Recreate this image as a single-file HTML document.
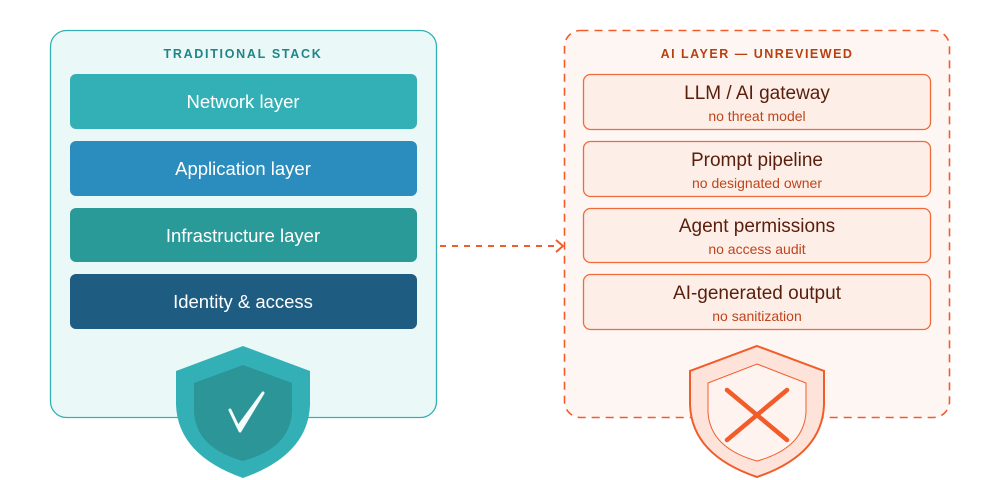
<!DOCTYPE html>
<html><head><meta charset="utf-8"><style>
html,body{margin:0;padding:0;background:#fff;width:1000px;height:480px;overflow:hidden}
svg{display:block;font-family:"Liberation Sans",sans-serif}
</style></head><body>
<svg width="1000" height="480" viewBox="0 0 1000 480" xmlns="http://www.w3.org/2000/svg">
<!-- left container -->
<rect x="50.5" y="30.5" width="386" height="387" rx="16" fill="#ebf8f8" stroke="#33b0b5" stroke-width="1.3"/>
<text x="243" y="58" text-anchor="middle" font-size="12.5" font-weight="bold" fill="#1f8589" letter-spacing="1.7">TRADITIONAL STACK</text>
<g font-size="18.5" fill="#fff" text-anchor="middle">
<rect x="70" y="74" width="347" height="55" rx="6" fill="#33b0b6"/>
<text x="243" y="108">Network layer</text>
<rect x="70" y="141" width="347" height="55" rx="6" fill="#2b8dbd"/>
<text x="243" y="175">Application layer</text>
<rect x="70" y="208" width="347" height="54" rx="6" fill="#2a9a98"/>
<text x="243" y="242">Infrastructure layer</text>
<rect x="70" y="274" width="347" height="55" rx="6" fill="#1f5c82"/>
<text x="243" y="308">Identity &amp; access</text>
</g>
<!-- left shield -->
<path d="M243 346 L310 371 L310 405 Q308 455 243 478 Q178 455 176 405 L176 371 Z" fill="#33b0b5"/>
<path d="M243 365 L292 383 L292 412 Q290 448 243 461 Q196 448 194 412 L194 383 Z" fill="#2b9598"/>
<path d="M230 410 L238 427 L263 393 L240 431 Z" fill="#f4fcfc" stroke="#f4fcfc" stroke-width="3" stroke-linejoin="round"/>
<!-- arrow -->
<line x1="440" y1="246" x2="560" y2="246" stroke="#f25c2a" stroke-width="2" stroke-dasharray="6 6"/>
<path d="M556 240 L563 246 L556 252" fill="none" stroke="#f25c2a" stroke-width="2"/>
<!-- right container -->
<rect x="564.5" y="30.5" width="385" height="387" rx="16" fill="#fef6f3" stroke="#f25c2a" stroke-width="1.6" stroke-dasharray="8 6"/>
<text x="757" y="58" text-anchor="middle" font-size="12.5" font-weight="bold" fill="#b8400f" letter-spacing="1.5">AI LAYER — UNREVIEWED</text>
<g font-size="19" fill="#5a1f0c" text-anchor="middle">
<rect x="583.5" y="74.5" width="347" height="55" rx="7" fill="#fdeee8" stroke="#f06a3a" stroke-width="1.3"/>
<text x="757" y="99">LLM / AI gateway</text>
<text x="757" y="121" font-size="14" fill="#c0451a">no threat model</text>
<rect x="583.5" y="141.5" width="347" height="55" rx="7" fill="#fdeee8" stroke="#f06a3a" stroke-width="1.3"/>
<text x="757" y="166">Prompt pipeline</text>
<text x="757" y="188" font-size="14" fill="#c0451a">no designated owner</text>
<rect x="583.5" y="208.5" width="347" height="54" rx="7" fill="#fdeee8" stroke="#f06a3a" stroke-width="1.3"/>
<text x="757" y="232">Agent permissions</text>
<text x="757" y="254" font-size="14" fill="#c0451a">no access audit</text>
<rect x="583.5" y="274.5" width="347" height="55" rx="7" fill="#fdeee8" stroke="#f06a3a" stroke-width="1.3"/>
<text x="757" y="299">AI-generated output</text>
<text x="757" y="321" font-size="14" fill="#c0451a">no sanitization</text>
</g>
<!-- right shield -->
<path d="M757 346 L824 371 L824 405 Q822 455 757 477 Q692 455 690 405 L690 371 Z" fill="#fde3da" stroke="#f25c2a" stroke-width="2"/>
<path d="M757 364 L806 383 L806 412 Q804 448 757 461 Q710 448 708 412 L708 383 Z" fill="#fef3ef" stroke="#f25c2a" stroke-width="1"/>
<line x1="727" y1="390" x2="787" y2="440" stroke="#f25c2a" stroke-width="4.5" stroke-linecap="round"/>
<line x1="787" y1="390" x2="727" y2="440" stroke="#f25c2a" stroke-width="4.5" stroke-linecap="round"/>
</svg>
</body></html>
